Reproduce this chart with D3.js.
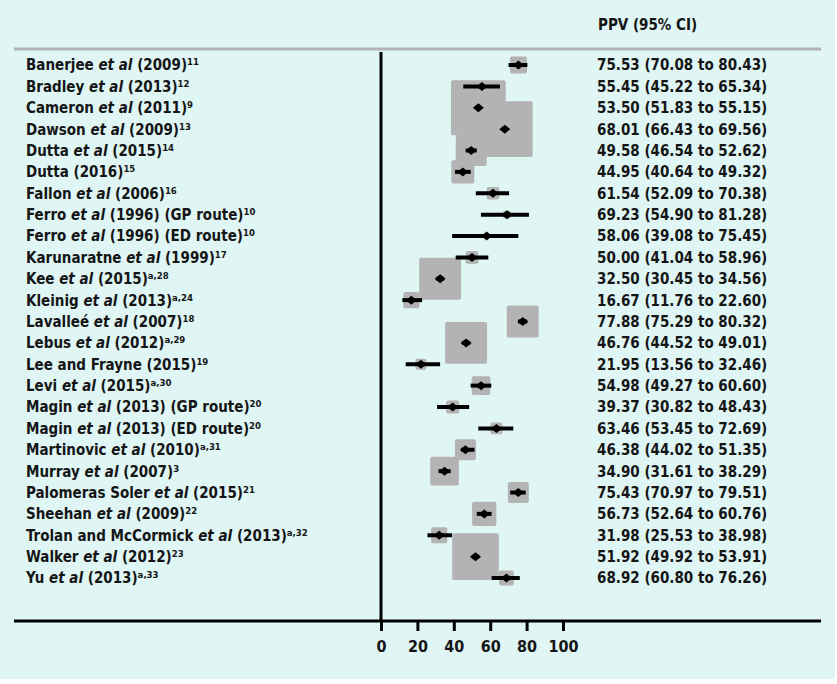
<!DOCTYPE html>
<html>
<head>
<meta charset="utf-8">
<script src="https://cdn.jsdelivr.net/npm/d3@7"></script>
<style>
  body { margin: 0; background: #fff; }
  svg text { font-family: "DejaVu Sans Condensed", "DejaVu Sans", sans-serif; font-stretch: condensed; font-weight: bold; fill: #151515; }
</style>
</head>
<body>
<div id="forest"></div>
<script>
// study labels: *...* = italic, ^... = superscript
var labels = [
  "Banerjee *et al* (2009)^11",
  "Bradley *et al* (2013)^12",
  "Cameron *et al* (2011)^9",
  "Dawson *et al* (2009)^13",
  "Dutta *et al* (2015)^14",
  "Dutta (2016)^15",
  "Fallon *et al* (2006)^16",
  "Ferro *et al* (1996) (GP route)^10",
  "Ferro *et al* (1996) (ED route)^10",
  "Karunaratne *et al* (1999)^17",
  "Kee *et al* (2015)^a,28",
  "Kleinig *et al* (2013)^a,24",
  "Lavalleé *et al* (2007)^18",
  "Lebus *et al* (2012)^a,29",
  "Lee and Frayne (2015)^19",
  "Levi *et al* (2015)^a,30",
  "Magin *et al* (2013) (GP route)^20",
  "Magin *et al* (2013) (ED route)^20",
  "Martinovic *et al* (2010)^a,31",
  "Murray *et al* (2007)^3",
  "Palomeras Soler *et al* (2015)^21",
  "Sheehan *et al* (2009)^22",
  "Trolan and McCormick *et al* (2013)^a,32",
  "Walker *et al* (2012)^23",
  "Yu *et al* (2013)^a,33"
];

var ppv   = [75.53, 55.45, 53.50, 68.01, 49.58, 44.95, 61.54, 69.23, 58.06, 50.00, 32.50, 16.67, 77.88,
             46.76, 21.95, 54.98, 39.37, 63.46, 46.38, 34.90, 75.43, 56.73, 31.98, 51.92, 68.92];
var lower = [70.08, 45.22, 51.83, 66.43, 46.54, 40.64, 52.09, 54.90, 39.08, 41.04, 30.45, 11.76, 75.29,
             44.52, 13.56, 49.27, 30.82, 53.45, 44.02, 31.61, 70.97, 52.64, 25.53, 49.92, 60.80];
var upper = [80.43, 65.34, 55.15, 69.56, 52.62, 49.32, 70.38, 81.28, 75.45, 58.96, 34.56, 22.60, 80.32,
             49.01, 32.46, 60.60, 48.43, 72.69, 51.35, 38.29, 79.51, 60.76, 38.98, 53.91, 76.26];
// relative study weights (square area)
var weights = [2.9, 0.2, 30, 31, 9.6, 5.3, 1.6, 0.6, 0.2, 1.6, 17.6, 2.6, 10.2,
               17.6, 1.2, 3.5, 1.7, 1.4, 4.4, 8.2, 4.4, 5.9, 2.6, 21.8, 2.2];

var xTicks = [0, 20, 40, 60, 80, 100];
var header = "PPV (95% CI)";

var width = 837, height = 684;

var svg = d3.select("#forest").append("svg")
  .attr("width", width)
  .attr("height", height);

svg.append("rect")
  .attr("width", 835).attr("height", 679)
  .attr("fill", "#dff6f5");

var x = d3.scaleLinear().domain([0, 100]).range([381, 563]);
var y = d3.scalePoint().domain(d3.range(labels.length)).range([65, 578]);
var side = d3.scaleSqrt().domain([0, 100]).range([0, 100]);

var data = labels.map(function(l, i) {
  return { label: l, ppv: ppv[i], lo: lower[i], hi: upper[i], w: weights[i], i: i };
});

// header + rules
svg.append("text")
  .attr("x", 598).attr("y", 25)
  .attr("dy", "0.35em")
  .style("font-size", "15px")
  .text(header);

svg.append("line")
  .attr("x1", 14).attr("x2", 821)
  .attr("y1", 49).attr("y2", 49)
  .attr("stroke", "#b2b2b2").attr("stroke-width", 3);

// weight squares go underneath everything else
svg.append("g").selectAll("rect")
  .data(data)
  .enter().append("rect")
  .attr("x", function(d) { return x(d.ppv) - side(d.w) / 2; })
  .attr("y", function(d) { return y(d.i) - side(d.w) / 2; })
  .attr("width", function(d) { return side(d.w); })
  .attr("height", function(d) { return side(d.w); })
  .attr("rx", 2)
  .attr("fill", "#b3b3b3");

svg.append("line")
  .attr("x1", x(0)).attr("x2", x(0))
  .attr("y1", 52).attr("y2", 621)
  .attr("stroke", "#000").attr("stroke-width", 3);

// x axis
var axis = svg.append("g")
  .attr("transform", "translate(0,621)")
  .call(d3.axisBottom(x).tickValues(xTicks).tickSize(10).tickPadding(10));
axis.select(".domain").remove();
axis.selectAll(".tick line").attr("stroke", "#000").attr("stroke-width", 3);
axis.selectAll(".tick text").style("font-size", "16px").attr("fill", "#151515");

svg.append("line")
  .attr("x1", 14).attr("x2", 821)
  .attr("y1", 621).attr("y2", 621)
  .attr("stroke", "#000").attr("stroke-width", 3);

// CI bars and point estimates
var rows = svg.append("g").selectAll(".row")
  .data(data)
  .enter().append("g")
  .attr("class", "row");

rows.append("line")
  .attr("x1", function(d) { return x(d.lo); })
  .attr("x2", function(d) { return x(d.hi); })
  .attr("y1", function(d) { return y(d.i); })
  .attr("y2", function(d) { return y(d.i); })
  .attr("stroke", "#000").attr("stroke-width", 4);

rows.append("path")
  .attr("d", function(d) {
    var cx = x(d.ppv), cy = y(d.i);
    return "M" + (cx - 5.5) + "," + cy + "L" + cx + "," + (cy - 4.5) +
           "L" + (cx + 5.5) + "," + cy + "L" + cx + "," + (cy + 4.5) + "Z";
  })
  .attr("fill", "#000");

// study label with italics and superscript
rows.append("text")
  .attr("x", 26)
  .attr("y", function(d) { return y(d.i); })
  .attr("dy", "0.36em")
  .style("font-size", "15px")
  .each(function(d) {
    var t = d3.select(this);
    d.label.split(/(\*[^*]+\*|\^.+$)/).forEach(function(part) {
      if (!part) return;
      if (part[0] === "*") {
        t.append("tspan").style("font-style", "italic").text(part.slice(1, -1));
      } else if (part[0] === "^") {
        t.append("tspan").attr("dy", "-5").style("font-size", "9.5px").text(part.slice(1));
      } else {
        t.append("tspan").text(part);
      }
    });
  });

rows.append("text")
  .attr("x", 597)
  .attr("y", function(d) { return y(d.i); })
  .attr("dy", "0.36em")
  .style("font-size", "15px")
  .text(function(d) {
    return d.ppv.toFixed(2) + " (" + d.lo.toFixed(2) + " to " + d.hi.toFixed(2) + ")";
  });
</script>
</body>
</html>
